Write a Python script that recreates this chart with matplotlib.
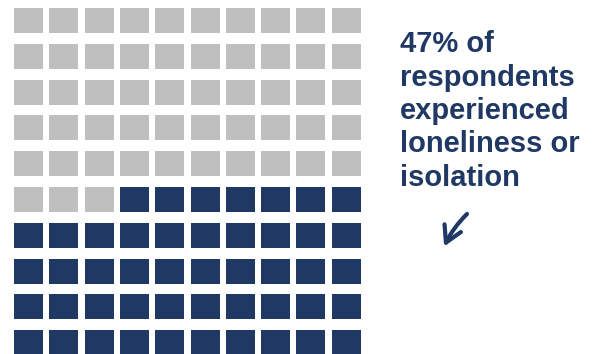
import matplotlib.pyplot as plt
from matplotlib.patches import Rectangle

# waffle data
total = 100
share = 47
n_rows, n_cols = 10, 10
label_lines = ["47% of", "respondents", "experienced", "loneliness or", "isolation"]

navy = "#1F3864"
grey = "#BFBFBF"

fig = plt.figure(figsize=(6, 3.54), dpi=100)
ax = fig.add_axes([0, 0, 1, 1])
ax.set_xlim(0, 600)
ax.set_ylim(354, 0)
ax.axis("off")

# cell geometry in pixels
x0, y0 = 14, 8
dx, dy = 35.3, 35.8
w, h = 29, 25

for i in range(total):
    r, c = divmod(i, n_cols)
    color = navy if i >= total - share else grey
    ax.add_patch(Rectangle((x0 + c * dx, y0 + r * dy), w, h,
                           facecolor=color, edgecolor="none"))

ax.text(400, 30, "\n".join(label_lines), ha="left", va="top",
        fontsize=21, fontweight="bold", color=navy,
        family=["Liberation Sans", "DejaVu Sans"], linespacing=1.25)

ax.annotate("", xy=(443, 249), xytext=(469, 212),
            arrowprops=dict(arrowstyle="->,head_length=1.15,head_width=0.65",
                            color=navy, lw=3, capstyle="round",
                            connectionstyle="arc3,rad=0.1"))

fig.savefig("out.png", dpi=100)
